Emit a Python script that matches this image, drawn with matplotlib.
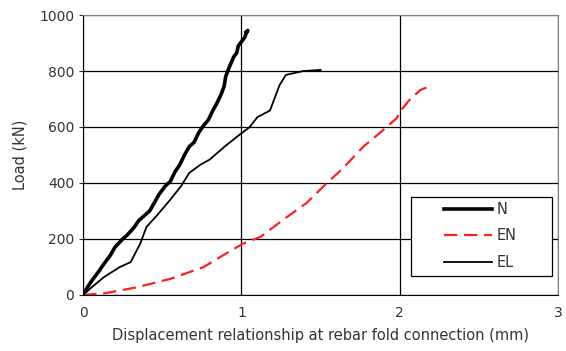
import matplotlib.pyplot as plt
from matplotlib.patches import Rectangle

# Load-displacement curves at the rebar fold connection
n_disp = [0, 0.03, 0.06, 0.10, 0.13, 0.17, 0.20, 0.25, 0.28, 0.32, 0.35, 0.38, 0.42,
          0.45, 0.48, 0.52, 0.55, 0.58, 0.61, 0.64, 0.67, 0.70, 0.73, 0.76, 0.79,
          0.82, 0.84, 0.87, 0.89, 0.90, 0.92, 0.95, 0.97, 0.98, 1.00, 1.02, 1.03, 1.04, 1.03]
n_load = [0, 30, 55, 85, 110, 140, 170, 200, 215, 240, 265, 280, 300,
          330, 360, 390, 405, 440, 465, 500, 530, 545, 580, 605, 625,
          660, 680, 715, 745, 780, 810, 850, 865, 890, 905, 920, 935, 945, 940]

en_disp = [0, 0.13, 0.34, 0.55, 0.76, 0.90, 1.01, 1.12, 1.26, 1.41, 1.54, 1.64,
           1.77, 1.87, 1.98, 2.01, 2.06, 2.13, 2.18, 2.16]
en_load = [0, 5, 27, 57, 99, 147, 183, 207, 267, 328, 400, 452,
           530, 577, 631, 661, 696, 732, 744, 738]

el_disp = [0, 0.06, 0.13, 0.23, 0.30, 0.33, 0.36, 0.40, 0.46, 0.55, 0.62, 0.67,
           0.74, 0.80, 0.90, 0.98, 1.05, 1.10, 1.18, 1.20, 1.24, 1.28, 1.39, 1.50]
el_load = [0, 30, 63, 99, 117, 150, 183, 243, 280, 340, 390, 436,
           465, 484, 533, 569, 599, 635, 659, 689, 749, 786, 800, 804]

plt.rcParams['font.family'] = ['DejaVu Sans']

fig = plt.figure(figsize=(5.66, 3.51), dpi=100)
ax = fig.add_axes([0.147, 0.160, 0.839, 0.797])

ax.plot(n_disp, n_load, color='black', linewidth=2.6, label='N')
ax.plot(en_disp, en_load, color='#ff2020', linewidth=1.6, dashes=(6, 3), label='EN')
ax.plot(el_disp, el_load, color='black', linewidth=1.3, label='EL')

ax.set_xlim(0, 3)
ax.set_ylim(0, 1000)
ax.set_xticks([0, 1, 2, 3])
ax.set_yticks(range(0, 1001, 200))
ax.grid(True, color='black', linewidth=0.9)
ax.set_axisbelow(True)
for side in ('top', 'right'):
    ax.spines[side].set_color('#808080')
for side in ('left', 'bottom'):
    ax.spines[side].set_color('black')
ax.tick_params(axis='both', labelsize=10, colors='#333333', length=3, direction='out')
ax.tick_params(axis='x', length=0, pad=8)

ax.set_xlabel('Displacement relationship at rebar fold connection (mm)',
              fontsize=10.5, color='#333333', labelpad=6)
ax.set_ylabel('Load (kN)', fontsize=10.5, color='#333333', labelpad=8)

# legend box drawn separately so the entries sit centred with wide side margins
ax.add_patch(Rectangle((0.69, 0.069), 0.297, 0.282, transform=ax.transAxes,
                       facecolor='white', edgecolor='black', linewidth=0.9, zorder=4))
leg = ax.legend(loc='center left', bbox_to_anchor=(0.760, 0.211), borderaxespad=0,
                frameon=False, fontsize=10.5, borderpad=0,
                handlelength=3.3, handletextpad=0.3, labelspacing=0.78)
leg.set_zorder(5)
for t in leg.get_texts():
    t.set_color('#333333')

fig.savefig('out.png', dpi=100)
